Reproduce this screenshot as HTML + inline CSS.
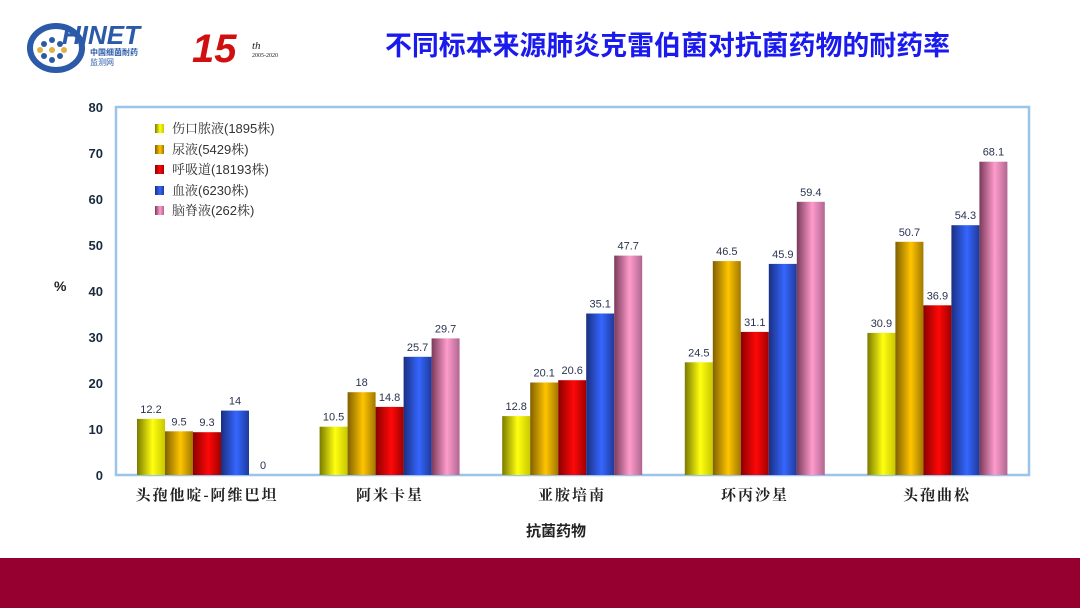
<!DOCTYPE html>
<html><head><meta charset="utf-8"><style>
html,body{margin:0;padding:0;background:#fff;}
svg{display:block;}
</style></head><body>
<svg width="1080" height="608" viewBox="0 0 1080 608" xmlns="http://www.w3.org/2000/svg">
<defs>
<linearGradient id="gy" x1="0" x2="1"><stop offset="0" stop-color="#7a7a00"/><stop offset="0.55" stop-color="#ffff10"/><stop offset="1" stop-color="#c8c800"/></linearGradient>
<linearGradient id="go" x1="0" x2="1"><stop offset="0" stop-color="#806000"/><stop offset="0.55" stop-color="#ffc400"/><stop offset="1" stop-color="#a07800"/></linearGradient>
<linearGradient id="gr" x1="0" x2="1"><stop offset="0" stop-color="#8a0000"/><stop offset="0.55" stop-color="#ff0808"/><stop offset="1" stop-color="#a00000"/></linearGradient>
<linearGradient id="gb" x1="0" x2="1"><stop offset="0" stop-color="#1a2f80"/><stop offset="0.55" stop-color="#3566ff"/><stop offset="1" stop-color="#1f3a9a"/></linearGradient>
<linearGradient id="gp" x1="0" x2="1"><stop offset="0" stop-color="#7a3a5a"/><stop offset="0.55" stop-color="#ff9ccc"/><stop offset="1" stop-color="#b06690"/></linearGradient>
</defs>
<g font-family="Liberation Sans, sans-serif">
<ellipse cx="56" cy="48" rx="26" ry="22" fill="none" stroke="#2a5aa8" stroke-width="6"/>
<g fill="#2a5aa8"><circle cx="44" cy="44" r="3"/><circle cx="52" cy="40" r="3"/><circle cx="60" cy="44" r="3"/><circle cx="44" cy="56" r="3"/><circle cx="52" cy="60" r="3"/><circle cx="60" cy="56" r="3"/></g>
<g fill="#e0b040"><circle cx="40" cy="50" r="3"/><circle cx="52" cy="50" r="3"/><circle cx="64" cy="50" r="3"/></g>
<text x="62" y="44" font-size="26" font-weight="bold" font-style="italic" fill="#2a5aa8">HINET</text>
<text x="90" y="55" font-size="8" font-weight="bold" fill="#2a5aa8" font-family="Liberation Sans, Noto Sans CJK SC, sans-serif">中国细菌耐药</text>
<text x="90" y="65" font-size="8" fill="#2a5aa8" font-family="Liberation Sans, Noto Sans CJK SC, sans-serif">监测网</text>
<text x="192" y="62" font-size="40" font-weight="bold" font-style="italic" fill="#d01010">15</text>
<text x="252" y="49" font-size="11" font-style="italic" font-family="Liberation Serif, serif" fill="#222">th</text>
<text x="252" y="57" font-size="6" font-family="Liberation Serif, serif" fill="#222">2005-2020</text>
</g>
<text x="385" y="55" font-size="27" font-weight="bold" fill="#1a1aee" textLength="565" lengthAdjust="spacingAndGlyphs" font-family="Liberation Sans, Noto Sans CJK SC, sans-serif">不同标本来源肺炎克雷伯菌对抗菌药物的耐药率</text>
<rect x="116" y="107" width="913" height="368" fill="none" stroke="#9cc4e8" stroke-width="2.5"/>
<g font-family="Liberation Sans, sans-serif" font-size="13" font-weight="bold" fill="#1a2a40" text-anchor="end">
<text x="103" y="112">80</text><text x="103" y="158">70</text><text x="103" y="204">60</text><text x="103" y="250">50</text><text x="103" y="296">40</text><text x="103" y="342">30</text><text x="103" y="388">20</text><text x="103" y="434">10</text><text x="103" y="480">0</text>
</g>
<text x="54" y="291" font-family="Liberation Sans, sans-serif" font-size="14" font-weight="bold" fill="#222">%</text>
<g>
<rect x="137" y="418.9" width="28" height="56.1" fill="url(#gy)"/>
<rect x="165" y="431.3" width="28" height="43.7" fill="url(#go)"/>
<rect x="193" y="432.2" width="28" height="42.8" fill="url(#gr)"/>
<rect x="221" y="410.6" width="28" height="64.4" fill="url(#gb)"/>
<rect x="319.6" y="426.7" width="28" height="48.3" fill="url(#gy)"/>
<rect x="347.6" y="392.2" width="28" height="82.8" fill="url(#go)"/>
<rect x="375.6" y="406.9" width="28" height="68.1" fill="url(#gr)"/>
<rect x="403.6" y="356.8" width="28" height="118.2" fill="url(#gb)"/>
<rect x="431.6" y="338.4" width="28" height="136.6" fill="url(#gp)"/>
<rect x="502.2" y="416.1" width="28" height="58.9" fill="url(#gy)"/>
<rect x="530.2" y="382.5" width="28" height="92.5" fill="url(#go)"/>
<rect x="558.2" y="380.2" width="28" height="94.8" fill="url(#gr)"/>
<rect x="586.2" y="313.5" width="28" height="161.5" fill="url(#gb)"/>
<rect x="614.2" y="255.6" width="28" height="219.4" fill="url(#gp)"/>
<rect x="684.8" y="362.3" width="28" height="112.7" fill="url(#gy)"/>
<rect x="712.8" y="261.1" width="28" height="213.9" fill="url(#go)"/>
<rect x="740.8" y="331.9" width="28" height="143.1" fill="url(#gr)"/>
<rect x="768.8" y="263.9" width="28" height="211.1" fill="url(#gb)"/>
<rect x="796.8" y="201.8" width="28" height="273.2" fill="url(#gp)"/>
<rect x="867.4" y="332.9" width="28" height="142.1" fill="url(#gy)"/>
<rect x="895.4" y="241.8" width="28" height="233.2" fill="url(#go)"/>
<rect x="923.4" y="305.3" width="28" height="169.7" fill="url(#gr)"/>
<rect x="951.4" y="225.2" width="28" height="249.8" fill="url(#gb)"/>
<rect x="979.4" y="161.7" width="28" height="313.3" fill="url(#gp)"/>
</g>
<g font-family="Liberation Sans, sans-serif" font-size="11" fill="#2a3350" text-anchor="middle">
<text x="151" y="412.9">12.2</text><text x="179" y="425.3">9.5</text><text x="207" y="426.2">9.3</text><text x="235" y="404.6">14</text><text x="263" y="469">0</text>
<text x="333.6" y="420.7">10.5</text><text x="361.6" y="386.2">18</text><text x="389.6" y="400.9">14.8</text><text x="417.6" y="350.8">25.7</text><text x="445.6" y="332.4">29.7</text>
<text x="516.2" y="410.1">12.8</text><text x="544.2" y="376.5">20.1</text><text x="572.2" y="374.2">20.6</text><text x="600.2" y="307.5">35.1</text><text x="628.2" y="249.6">47.7</text>
<text x="698.8" y="356.3">24.5</text><text x="726.8" y="255.1">46.5</text><text x="754.8" y="325.9">31.1</text><text x="782.8" y="257.9">45.9</text><text x="810.8" y="195.8">59.4</text>
<text x="881.4" y="326.9">30.9</text><text x="909.4" y="235.8">50.7</text><text x="937.4" y="299.3">36.9</text><text x="965.4" y="219.2">54.3</text><text x="993.4" y="155.7">68.1</text>
</g>
<g font-family="Liberation Sans, Noto Serif CJK SC, serif" font-size="13" fill="#333">
<rect x="155" y="124" width="9" height="9" fill="url(#gy)"/><text x="172" y="133">伤口脓液(1895株)</text>
<rect x="155" y="145" width="9" height="9" fill="url(#go)"/><text x="172" y="154">尿液(5429株)</text>
<rect x="155" y="165" width="9" height="9" fill="url(#gr)"/><text x="172" y="174">呼吸道(18193株)</text>
<rect x="155" y="186" width="9" height="9" fill="url(#gb)"/><text x="172" y="195">血液(6230株)</text>
<rect x="155" y="206" width="9" height="9" fill="url(#gp)"/><text x="172" y="215">脑脊液(262株)</text>
</g>
<g font-family="Liberation Serif, Noto Serif CJK SC, serif" font-size="15" font-weight="bold" fill="#222" text-anchor="middle" letter-spacing="2">
<text x="207" y="500">头孢他啶-阿维巴坦</text>
<text x="390" y="500">阿米卡星</text>
<text x="572" y="500">亚胺培南</text>
<text x="755" y="500">环丙沙星</text>
<text x="937" y="500">头孢曲松</text>
</g>
<text x="556" y="536" font-family="Liberation Sans, Noto Sans CJK SC, sans-serif" font-size="15" font-weight="bold" fill="#222" text-anchor="middle">抗菌药物</text>
<rect x="0" y="558" width="1080" height="50" fill="#960030"/>
</svg>
</body></html>
